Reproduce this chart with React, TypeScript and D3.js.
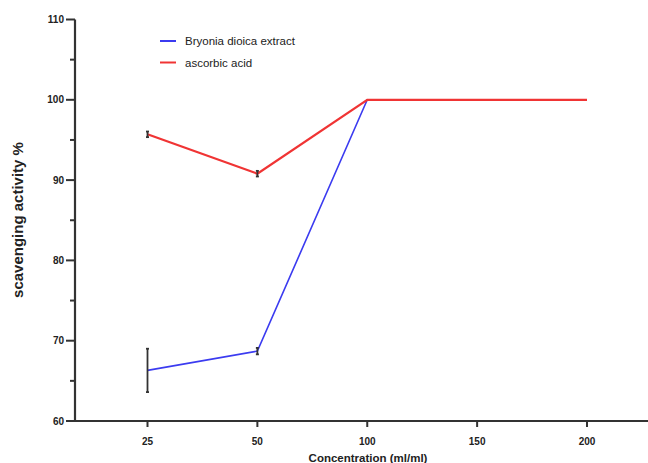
import React from "react";
import * as d3 from "d3";

const categories = ["25", "50", "100", "150", "200"];
const yTicks = [60, 70, 80, 90, 100, 110];
const yMinorTicks = [65, 75, 85, 95, 105];
const bryoniaValues = [66.3, 68.7, 100, 100, 100];
const bryoniaErrors = [2.7, 0.4, 0, 0, 0];
const ascorbicValues = [95.7, 90.8, 100, 100, 100];
const ascorbicErrors = [0.35, 0.35, 0, 0, 0];
const seriesNames = ["Bryonia dioica extract", "ascorbic acid"];
const seriesColors = ["#3b3bf0", "#f03434"];

const W = 648;
const H = 463;
const left = 75;
const top = 19.5;
const bottom = 421;

export default function App() {
  const x = d3.scalePoint<string>().domain(categories).range([147.5, 587]);
  const y = d3.scaleLinear().domain([60, 110]).range([bottom, top]);
  const line = d3
    .line<number>()
    .x((_, i) => x(categories[i]) as number)
    .y((d) => y(d));
  const font = "Liberation Sans, Arial, sans-serif";
  const axisColor = "#333";

  const series = [
    { values: bryoniaValues, errors: bryoniaErrors, color: seriesColors[0], w: 1.6 },
    { values: ascorbicValues, errors: ascorbicErrors, color: seriesColors[1], w: 2.2 },
  ];

  return (
    <svg width={W} height={H} style={{ position: "absolute", left: 0, top: 0, background: "#fff" }}>
      {series.map((s, si) => (
        <path key={si} d={line(s.values) || ""} fill="none" stroke={s.color} strokeWidth={s.w} />
      ))}
      {series.map((s, si) =>
        s.values.map((v, i) =>
          s.errors[i] > 0 ? (
            <g key={`${si}-${i}`} stroke="#333" strokeWidth={1.8}>
              <line x1={x(categories[i])} x2={x(categories[i])} y1={y(v - s.errors[i])} y2={y(v + s.errors[i])} />
              <line x1={(x(categories[i]) as number) - 1.5} x2={(x(categories[i]) as number) + 1.5} y1={y(v - s.errors[i])} y2={y(v - s.errors[i])} />
              <line x1={(x(categories[i]) as number) - 1.5} x2={(x(categories[i]) as number) + 1.5} y1={y(v + s.errors[i])} y2={y(v + s.errors[i])} />
            </g>
          ) : null
        )
      )}
      <line x1={left} x2={left} y1={top} y2={bottom} stroke={axisColor} strokeWidth={2.2} />
      {yTicks.map((t) => (
        <g key={t}>
          <line x1={left - 9} x2={left} y1={y(t)} y2={y(t)} stroke={axisColor} strokeWidth={2} />
          <text x={left - 11} y={y(t)} dy="0.35em" textAnchor="end" fontFamily={font} fontSize={10} fontWeight="bold" fill="#222">
            {t}
          </text>
        </g>
      ))}
      {yMinorTicks.map((t) => (
        <line key={t} x1={left - 5} x2={left} y1={y(t)} y2={y(t)} stroke={axisColor} strokeWidth={2} />
      ))}
      <line x1={left - 1} x2={W} y1={bottom} y2={bottom} stroke={axisColor} strokeWidth={2.2} />
      {categories.map((c) => (
        <g key={c}>
          <line x1={x(c)} x2={x(c)} y1={bottom} y2={bottom + 6} stroke={axisColor} strokeWidth={2} />
          <text x={x(c)} y={445} textAnchor="middle" fontFamily={font} fontSize={10} fontWeight="bold" fill="#222">
            {c}
          </text>
        </g>
      ))}
      <text x={368} y={462} textAnchor="middle" fontFamily={font} fontSize={11.5} fontWeight="bold" fill="#222">
        Concentration (ml/ml)
      </text>
      <text
        transform="translate(23,220) rotate(-90)"
        textAnchor="middle"
        fontFamily={font}
        fontSize={15}
        fontWeight="bold"
        fill="#222"
      >
        scavenging activity %
      </text>
      {seriesNames.map((n, i) => (
        <g key={n}>
          <line x1={160} x2={176} y1={41 + i * 21.5} y2={41 + i * 21.5} stroke={seriesColors[i]} strokeWidth={2} />
          <text x={185} y={41 + i * 21.5} dy="0.35em" fontFamily={font} fontSize={11.5} fill="#222">
            {n}
          </text>
        </g>
      ))}
    </svg>
  );
}
